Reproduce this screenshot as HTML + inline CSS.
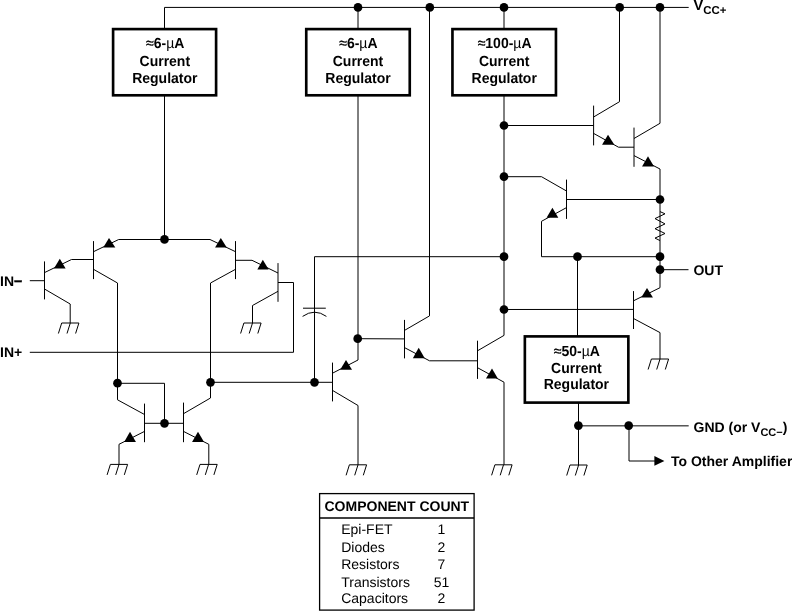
<!DOCTYPE html>
<html><head><meta charset="utf-8"><title>Schematic</title>
<style>
html,body{margin:0;padding:0;background:#fff;}
svg{display:block;will-change:transform;}
text{font-family:"Liberation Sans",Arial,Helvetica,sans-serif;fill:#000;text-rendering:geometricPrecision;}
</style></head><body>
<svg width="792" height="611" viewBox="0 0 792 611">
<rect width="792" height="611" fill="#fff"/>
<path d="M164.5 28 L164.5 7.42 L688.7 7.42" fill="none" stroke="#000" stroke-width="1.0"/>
<path d="M164.5 95 L164.5 239" fill="none" stroke="#000" stroke-width="1.0"/>
<path d="M358 7.42 L358 28" fill="none" stroke="#000" stroke-width="1.0"/>
<path d="M358 95 L358 360" fill="none" stroke="#000" stroke-width="1.0"/>
<path d="M429.5 7.42 L429.5 315.9" fill="none" stroke="#000" stroke-width="1.0"/>
<path d="M504 7.42 L504 28" fill="none" stroke="#000" stroke-width="1.0"/>
<path d="M504 95 L504 335.4" fill="none" stroke="#000" stroke-width="1.0"/>
<path d="M619.5 7.42 L619.5 101.7 L593.6 117" fill="none" stroke="#000" stroke-width="1.0"/>
<path d="M660 7.42 L660 123.3 L634 138.5" fill="none" stroke="#000" stroke-width="1.0"/>
<path d="M593.6 105.6 L593.6 145.4" fill="none" stroke="#000" stroke-width="1.0"/>
<path d="M504 125.5 L593.6 125.5" fill="none" stroke="#000" stroke-width="1.0"/>
<path d="M593.6 133.4 L618.5 147.2 L634 147.2" fill="none" stroke="#000" stroke-width="1.0"/>
<path d="M608 134.65 L602.05 144.71 L614.35 144.71 Z" fill="#000"/>
<path d="M634 127.6 L634 166.8" fill="none" stroke="#000" stroke-width="1.0"/>
<path d="M634 155.6 L660 169 L660 256.7" fill="none" stroke="#000" stroke-width="1.0"/>
<path d="M648 156.35 L642.05 166.61 L653.95 166.61 Z" fill="#000"/>
<path d="M566.5 179.6 L566.5 218.9" fill="none" stroke="#000" stroke-width="1.0"/>
<path d="M566.5 199.5 L660 199.5" fill="none" stroke="#000" stroke-width="1.0"/>
<path d="M504 176.7 L541.5 176.7 L566.5 191" fill="none" stroke="#000" stroke-width="1.0"/>
<path d="M566.5 207.6 L541.5 221.3 L541.5 256.7" fill="none" stroke="#000" stroke-width="1.0"/>
<path d="M552.4 207.85 L546.55 217.81 L558.35 217.81 Z" fill="#000"/>
<path d="M660 211.6 L665 213.8 L655 218.6 L665 223.9 L655 228.7 L665 233.5 L655 238.1 L660 240.6" fill="none" stroke="#000" stroke-width="1.0"/>
<path d="M314.5 382.3 L314.5 256.7 L504 256.7" fill="none" stroke="#000" stroke-width="1.0"/>
<path d="M541.5 256.7 L660 256.7" fill="none" stroke="#000" stroke-width="1.0"/>
<path d="M660 256.7 L660 287.7 L633.5 300.8" fill="none" stroke="#000" stroke-width="1.0"/>
<path d="M660 269.7 L688.5 269.7" fill="none" stroke="#000" stroke-width="1.0"/>
<path d="M633.5 291.1 L633.5 329" fill="none" stroke="#000" stroke-width="1.0"/>
<path d="M504 309.5 L633.5 309.4" fill="none" stroke="#000" stroke-width="1.0"/>
<path d="M633.5 318.5 L660 332.6 L660 359" fill="none" stroke="#000" stroke-width="1.0"/>
<path d="M647 288.05 L641.25 297.61 L652.95 297.61 Z" fill="#000"/>
<path d="M651.4 359 L668.6 359" fill="none" stroke="#000" stroke-width="1.0"/>
<path d="M651.4 359 L648.1 369.5" fill="none" stroke="#000" stroke-width="1.0"/>
<path d="M660 359 L656.7 369.5" fill="none" stroke="#000" stroke-width="1.0"/>
<path d="M668.6 359 L665.3 369.5" fill="none" stroke="#000" stroke-width="1.0"/>
<path d="M577.5 256.7 L577.5 336" fill="none" stroke="#000" stroke-width="1.0"/>
<path d="M578.5 402 L578.5 465" fill="none" stroke="#000" stroke-width="1.0"/>
<path d="M570 465 L587.2 465" fill="none" stroke="#000" stroke-width="1.0"/>
<path d="M570 465 L566.7 475.5" fill="none" stroke="#000" stroke-width="1.0"/>
<path d="M578.6 465 L575.3 475.5" fill="none" stroke="#000" stroke-width="1.0"/>
<path d="M587.2 465 L583.9 475.5" fill="none" stroke="#000" stroke-width="1.0"/>
<path d="M578.5 425.85 L688.7 425.85" fill="none" stroke="#000" stroke-width="1.0"/>
<path d="M629 425.85 L629 461 L656 461" fill="none" stroke="#000" stroke-width="1.0"/>
<path d="M654.4 456 L664.4 460.9 L654.4 465.8 Z" fill="#000"/>
<path d="M164.5 239.5 L118.7 239.5 L93.5 251.7" fill="none" stroke="#000" stroke-width="1.0"/>
<path d="M164.5 239.5 L210 239.5 L235.5 251.7" fill="none" stroke="#000" stroke-width="1.0"/>
<path d="M93.5 241.1 L93.5 279.1" fill="none" stroke="#000" stroke-width="1.0"/>
<path d="M93.5 259.5 L71.5 259.5 L44.5 272.6" fill="none" stroke="#000" stroke-width="1.0"/>
<path d="M93.5 269.3 L117.5 283 L117.5 399.8 L144.5 414.5" fill="none" stroke="#000" stroke-width="1.0"/>
<path d="M109 237.95 L103.25 247.51 L115.35 247.51 Z" fill="#000"/>
<path d="M44.5 261.4 L44.5 299.4" fill="none" stroke="#000" stroke-width="1.0"/>
<path d="M29.8 280.7 L44.5 280.7" fill="none" stroke="#000" stroke-width="1.0"/>
<path d="M44.5 289 L70.2 304 L70.2 323" fill="none" stroke="#000" stroke-width="1.0"/>
<path d="M59.8 258.65 L53.95 268.41 L65.65 268.41 Z" fill="#000"/>
<path d="M61.7 323 L78.9 323" fill="none" stroke="#000" stroke-width="1.0"/>
<path d="M61.7 323 L58.4 333.5" fill="none" stroke="#000" stroke-width="1.0"/>
<path d="M70.3 323 L67 333.5" fill="none" stroke="#000" stroke-width="1.0"/>
<path d="M78.9 323 L75.6 333.5" fill="none" stroke="#000" stroke-width="1.0"/>
<path d="M235.5 241.1 L235.5 279.1" fill="none" stroke="#000" stroke-width="1.0"/>
<path d="M235.5 260.3 L252 260.3 L278 273" fill="none" stroke="#000" stroke-width="1.0"/>
<path d="M235.5 269.3 L210.5 283 L210.5 398 L183.5 413.7" fill="none" stroke="#000" stroke-width="1.0"/>
<path d="M220.8 237.95 L215.05 247.51 L226.75 247.51 Z" fill="#000"/>
<path d="M278 263.1 L278 301.8" fill="none" stroke="#000" stroke-width="1.0"/>
<path d="M278 282.5 L293.5 282.5 L293.5 352.3 L29.8 352.3" fill="none" stroke="#000" stroke-width="1.0"/>
<path d="M278 291.3 L252.5 305.5 L252.5 323" fill="none" stroke="#000" stroke-width="1.0"/>
<path d="M262.8 259.65 L257.35 269.51 L268.65 269.51 Z" fill="#000"/>
<path d="M243.9 323 L261.1 323" fill="none" stroke="#000" stroke-width="1.0"/>
<path d="M243.9 323 L240.6 333.5" fill="none" stroke="#000" stroke-width="1.0"/>
<path d="M252.5 323 L249.2 333.5" fill="none" stroke="#000" stroke-width="1.0"/>
<path d="M261.1 323 L257.8 333.5" fill="none" stroke="#000" stroke-width="1.0"/>
<path d="M117.5 383.3 L164.5 383.3 L164.5 423.3" fill="none" stroke="#000" stroke-width="1.0"/>
<path d="M144.5 403.6 L144.5 442.2" fill="none" stroke="#000" stroke-width="1.0"/>
<path d="M183.5 402.6 L183.5 442.2" fill="none" stroke="#000" stroke-width="1.0"/>
<path d="M144.5 423.3 L183.5 423.3" fill="none" stroke="#000" stroke-width="1.0"/>
<path d="M144.5 431.4 L119 444.3 L119 464.4" fill="none" stroke="#000" stroke-width="1.0"/>
<path d="M183.5 431.4 L208.8 444.3 L208.8 464.4" fill="none" stroke="#000" stroke-width="1.0"/>
<path d="M130 431.65 L124.15 442.01 L135.95 442.01 Z" fill="#000"/>
<path d="M198 431.65 L192.05 442.01 L204.05 442.01 Z" fill="#000"/>
<path d="M110.4 464.4 L127.6 464.4" fill="none" stroke="#000" stroke-width="1.0"/>
<path d="M110.4 464.4 L107.1 474.9" fill="none" stroke="#000" stroke-width="1.0"/>
<path d="M119 464.4 L115.7 474.9" fill="none" stroke="#000" stroke-width="1.0"/>
<path d="M127.6 464.4 L124.3 474.9" fill="none" stroke="#000" stroke-width="1.0"/>
<path d="M200 464.4 L217.2 464.4" fill="none" stroke="#000" stroke-width="1.0"/>
<path d="M200 464.4 L196.7 474.9" fill="none" stroke="#000" stroke-width="1.0"/>
<path d="M208.6 464.4 L205.3 474.9" fill="none" stroke="#000" stroke-width="1.0"/>
<path d="M217.2 464.4 L213.9 474.9" fill="none" stroke="#000" stroke-width="1.0"/>
<path d="M210.5 382.3 L332.5 382.3" fill="none" stroke="#000" stroke-width="1.0"/>
<path d="M303 308.2 L325.8 308.2" fill="none" stroke="#000" stroke-width="1.0"/>
<path d="M302.6 316.4 Q314.6 308 326.4 316.4" fill="none" stroke="#000" stroke-width="1"/>
<path d="M332.5 362.6 L332.5 401.4" fill="none" stroke="#000" stroke-width="1.0"/>
<path d="M332.5 373.2 L358 360" fill="none" stroke="#000" stroke-width="1.0"/>
<path d="M332.5 390.4 L358 405.5 L358 464.8" fill="none" stroke="#000" stroke-width="1.0"/>
<path d="M346 359.95 L340.15 369.71 L352.05 369.71 Z" fill="#000"/>
<path d="M349.4 464.8 L366.6 464.8" fill="none" stroke="#000" stroke-width="1.0"/>
<path d="M349.4 464.8 L346.1 475.3" fill="none" stroke="#000" stroke-width="1.0"/>
<path d="M358 464.8 L354.7 475.3" fill="none" stroke="#000" stroke-width="1.0"/>
<path d="M366.6 464.8 L363.3 475.3" fill="none" stroke="#000" stroke-width="1.0"/>
<path d="M358 338.7 L404.5 338.9" fill="none" stroke="#000" stroke-width="1.0"/>
<path d="M404.5 319.9 L404.5 358.4" fill="none" stroke="#000" stroke-width="1.0"/>
<path d="M404.5 330.4 L429.5 315.9" fill="none" stroke="#000" stroke-width="1.0"/>
<path d="M404.5 347.6 L429.5 360.8 L477.5 360.8" fill="none" stroke="#000" stroke-width="1.0"/>
<path d="M418.7 347.85 L412.85 358.21 L424.75 358.21 Z" fill="#000"/>
<path d="M477.5 340.7 L477.5 378.9" fill="none" stroke="#000" stroke-width="1.0"/>
<path d="M477.5 350.8 L504 335.4" fill="none" stroke="#000" stroke-width="1.0"/>
<path d="M477.5 367.7 L504 382.2 L504 464.8" fill="none" stroke="#000" stroke-width="1.0"/>
<path d="M492 368.45 L485.95 378.51 L497.85 378.51 Z" fill="#000"/>
<path d="M494.9 464.8 L512.1 464.8" fill="none" stroke="#000" stroke-width="1.0"/>
<path d="M494.9 464.8 L491.6 475.3" fill="none" stroke="#000" stroke-width="1.0"/>
<path d="M503.5 464.8 L500.2 475.3" fill="none" stroke="#000" stroke-width="1.0"/>
<path d="M512.1 464.8 L508.8 475.3" fill="none" stroke="#000" stroke-width="1.0"/>
<circle cx="358" cy="7.42" r="4.35" fill="#000"/>
<circle cx="429.8" cy="7.42" r="4.35" fill="#000"/>
<circle cx="504" cy="7.42" r="4.35" fill="#000"/>
<circle cx="619.7" cy="7.42" r="4.35" fill="#000"/>
<circle cx="660" cy="7.42" r="4.35" fill="#000"/>
<circle cx="504" cy="125.5" r="4.35" fill="#000"/>
<circle cx="504" cy="176.7" r="4.35" fill="#000"/>
<circle cx="504" cy="256.7" r="4.35" fill="#000"/>
<circle cx="504" cy="309.5" r="4.35" fill="#000"/>
<circle cx="660" cy="199.5" r="4.35" fill="#000"/>
<circle cx="660" cy="256.7" r="4.35" fill="#000"/>
<circle cx="660" cy="269.7" r="4.35" fill="#000"/>
<circle cx="577.5" cy="256.7" r="4.35" fill="#000"/>
<circle cx="164.5" cy="239.4" r="4.35" fill="#000"/>
<circle cx="117.5" cy="383.2" r="4.35" fill="#000"/>
<circle cx="210.5" cy="382.3" r="4.35" fill="#000"/>
<circle cx="164.5" cy="423.3" r="4.35" fill="#000"/>
<circle cx="314.5" cy="382.3" r="4.35" fill="#000"/>
<circle cx="357.7" cy="338.7" r="4.35" fill="#000"/>
<circle cx="578.4" cy="425.6" r="4.35" fill="#000"/>
<circle cx="628.7" cy="425.6" r="4.35" fill="#000"/>
<rect x="113.1" y="29.1" width="103" height="66.2" fill="#fff" stroke="#000" stroke-width="2.65"/>
<rect x="306.25" y="29.1" width="103.5" height="66.2" fill="#fff" stroke="#000" stroke-width="2.65"/>
<rect x="452.45" y="29.1" width="103.5" height="66.2" fill="#fff" stroke="#000" stroke-width="2.65"/>
<rect x="524.85" y="336.4" width="103.5" height="66.2" fill="#fff" stroke="#000" stroke-width="2.65"/>
<text transform="translate(165.2 48.4) scale(1 1.045)" text-anchor="middle" font-size="14" font-weight="bold" ><tspan font-weight="normal" stroke="#000" stroke-width="0.35">≈</tspan>6-<tspan font-weight="normal">µ</tspan>A</text>
<text transform="translate(164.8 66) scale(1 1.045)" text-anchor="middle" font-size="14" font-weight="bold" >Current</text>
<text transform="translate(164.8 82.7) scale(1 1.045)" text-anchor="middle" font-size="14" font-weight="bold" >Regulator</text>
<text transform="translate(358.4 48.4) scale(1 1.045)" text-anchor="middle" font-size="14" font-weight="bold" ><tspan font-weight="normal" stroke="#000" stroke-width="0.35">≈</tspan>6-<tspan font-weight="normal">µ</tspan>A</text>
<text transform="translate(358 66) scale(1 1.045)" text-anchor="middle" font-size="14" font-weight="bold" >Current</text>
<text transform="translate(358 82.7) scale(1 1.045)" text-anchor="middle" font-size="14" font-weight="bold" >Regulator</text>
<text transform="translate(504.6 48.4) scale(1 1.045)" text-anchor="middle" font-size="14" font-weight="bold" ><tspan font-weight="normal" stroke="#000" stroke-width="0.35">≈</tspan>100-<tspan font-weight="normal">µ</tspan>A</text>
<text transform="translate(504.2 66) scale(1 1.045)" text-anchor="middle" font-size="14" font-weight="bold" >Current</text>
<text transform="translate(504.2 82.7) scale(1 1.045)" text-anchor="middle" font-size="14" font-weight="bold" >Regulator</text>
<text transform="translate(576.8 356.1) scale(1 1.045)" text-anchor="middle" font-size="14" font-weight="bold" ><tspan font-weight="normal" stroke="#000" stroke-width="0.35">≈</tspan>50-<tspan font-weight="normal">µ</tspan>A</text>
<text transform="translate(576.4 372.6) scale(1 1.045)" text-anchor="middle" font-size="14" font-weight="bold" >Current</text>
<text transform="translate(576.4 389.4) scale(1 1.045)" text-anchor="middle" font-size="14" font-weight="bold" >Regulator</text>
<text x="693.6" y="10.3" text-anchor="start" font-size="14.6" font-weight="bold" >V<tspan font-size="11.4" dy="3.5">CC+</tspan></text>
<text x="693.4" y="275.3" text-anchor="start" font-size="14" font-weight="bold" >OUT</text>
<text x="693.5" y="431.7" text-anchor="start" font-size="14" font-weight="bold" >GND (or V<tspan font-size="11" dy="4.3">CC−</tspan><tspan dy="-4.3">)</tspan></text>
<text x="671" y="465.8" text-anchor="start" font-size="14" font-weight="bold" >To Other Amplifier</text>
<text x="0" y="285.8" text-anchor="start" font-size="14" font-weight="bold" >IN<tspan stroke="#000" stroke-width="0.5">−</tspan></text>
<text x="0" y="357.3" text-anchor="start" font-size="14" font-weight="bold" >IN+</text>
<rect x="319.6" y="493.6" width="154.5" height="116.5" fill="#fff" stroke="#000" stroke-width="1.3"/>
<path d="M319.6 518 L474.1 518" fill="none" stroke="#000" stroke-width="1.3"/>
<text x="324.5" y="511.2" text-anchor="start" font-size="14" font-weight="bold" >COMPONENT COUNT</text>
<text x="341.2" y="533.9" text-anchor="start" font-size="14" font-weight="normal" >Epi-FET</text>
<text x="441.5" y="533.9" text-anchor="middle" font-size="14" font-weight="normal" >1</text>
<text x="341.2" y="551.7" text-anchor="start" font-size="14" font-weight="normal" >Diodes</text>
<text x="441.5" y="551.7" text-anchor="middle" font-size="14" font-weight="normal" >2</text>
<text x="341.2" y="568.6" text-anchor="start" font-size="14" font-weight="normal" >Resistors</text>
<text x="441.5" y="568.6" text-anchor="middle" font-size="14" font-weight="normal" >7</text>
<text x="341.2" y="586.7" text-anchor="start" font-size="14" font-weight="normal" >Transistors</text>
<text x="441.5" y="586.7" text-anchor="middle" font-size="14" font-weight="normal" >51</text>
<text x="341.2" y="603.3" text-anchor="start" font-size="14" font-weight="normal" >Capacitors</text>
<text x="441.5" y="603.3" text-anchor="middle" font-size="14" font-weight="normal" >2</text>
</svg>
</body></html>
